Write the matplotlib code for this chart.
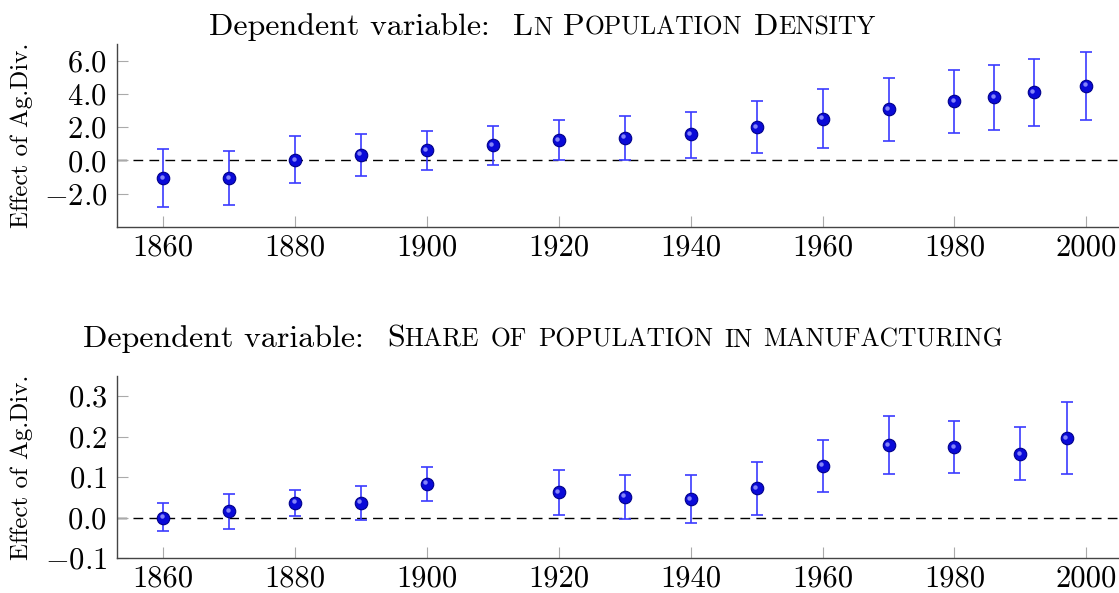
import matplotlib
matplotlib.use("Agg")
import matplotlib.pyplot as plt
import matplotlib.transforms as mtransforms
from matplotlib.offsetbox import TextArea, HPacker, AnchoredOffsetbox

plt.rcParams['font.family'] = 'cmr10'
plt.rcParams['mathtext.fontset'] = 'cm'
plt.rcParams['axes.formatter.use_mathtext'] = True

# ---- data: top panel (Ln population density) ----
years_top = [1860, 1870, 1880, 1890, 1900, 1910, 1920, 1930, 1940, 1950, 1960, 1970, 1980, 1986, 1992, 2000]
est_top   = [-1.09, -1.09, 0.02, 0.34, 0.60, 0.92, 1.21, 1.35, 1.57, 2.01, 2.51, 3.08, 3.56, 3.80, 4.11, 4.49]
hi_top    = [0.68, 0.54, 1.45, 1.57, 1.79, 2.07, 2.45, 2.66, 2.94, 3.60, 4.29, 4.97, 5.46, 5.74, 6.12, 6.52]
lo_top    = [-2.84, -2.70, -1.37, -0.93, -0.59, -0.26, 0.00, 0.00, 0.16, 0.42, 0.74, 1.18, 1.65, 1.85, 2.09, 2.45]

# ---- data: bottom panel (share in manufacturing) ----
years_bot = [1860, 1870, 1880, 1890, 1900, 1920, 1930, 1940, 1950, 1960, 1970, 1980, 1990, 1997]
est_bot   = [0.000, 0.016, 0.037, 0.036, 0.083, 0.062, 0.052, 0.045, 0.072, 0.128, 0.179, 0.174, 0.157, 0.196]
hi_bot    = [0.035, 0.059, 0.069, 0.078, 0.126, 0.118, 0.106, 0.104, 0.137, 0.192, 0.251, 0.239, 0.223, 0.285]
lo_bot    = [-0.034, -0.029, 0.004, -0.007, 0.041, 0.006, -0.003, -0.013, 0.007, 0.064, 0.108, 0.109, 0.092, 0.108]

xticks = [1860, 1880, 1900, 1920, 1940, 1960, 1980, 2000]
yticks_top = [-2.0, 0.0, 2.0, 4.0, 6.0]
yticks_bot = [-0.1, 0.0, 0.1, 0.2, 0.3]
ylabel = "Effect of Ag.Div."
title_prefix = "Dependent variable:"
title_top_words = [("L", "N"), ("P", "OPULATION"), ("D", "ENSITY")]
title_bot_words = [("S", "HARE"), ("", "OF"), ("", "POPULATION"), ("", "IN"), ("", "MANUFACTURING")]

W, H = 1119, 593
fig = plt.figure(figsize=(W / 100, H / 100), dpi=100)

ax1 = fig.add_axes([117 / W, 1 - 226.7 / H, (W - 117) / W, 182.4 / H])
ax2 = fig.add_axes([117 / W, 1 - 558.0 / H, (W - 117) / W, 182.0 / H])


def draw(ax, yrs, est, lo, hi, yticks, ylim, fmt):
    yerr = [[e - l for e, l in zip(est, lo)], [h - e for e, h in zip(est, hi)]]
    ax.axhline(0, color='black', lw=1.0, ls=(0, (7, 4.5)), zorder=1)
    ax.errorbar(yrs, est, yerr=yerr, fmt='none', ecolor='#3b3bff', elinewidth=1.2,
                capsize=4, capthick=1.2, zorder=2)
    ax.plot(yrs, est, 'o', ms=9, mfc='#0a0ad8', mec='#00008a', mew=0.8, zorder=3, ls='none')
    hl = mtransforms.offset_copy(ax.transData, fig=fig, x=-1.5, y=1.5, units='dots')
    ax.plot(yrs, est, 'o', ms=3.2, mfc='#9a9aff', mec='none', alpha=0.85, zorder=4,
            ls='none', transform=hl)
    ax.set_xlim(1853.0, 2004.95)
    ax.set_ylim(*ylim)
    ax.set_xticks(xticks)
    ax.set_xticklabels([str(t) for t in xticks])
    ax.set_yticks(yticks)
    ax.set_yticklabels([("$" + fmt + "$") % v for v in yticks])
    for s in ['top', 'right']:
        ax.spines[s].set_visible(False)
    for s in ['left', 'bottom']:
        ax.spines[s].set_color('#444444')
        ax.spines[s].set_linewidth(1.0)
    ax.tick_params(direction='in', length=8, width=0.8, color='#aaaaaa',
                   labelsize=22, labelcolor='black')
    ax.tick_params(axis='x', pad=5)
    ax.tick_params(axis='y', pad=7)
    ax.set_ylabel(ylabel, fontsize=18)
    ax.yaxis.set_label_coords(-0.084, 0.5)


draw(ax1, years_top, est_top, lo_top, hi_top, yticks_top, (-4, 7), "%.1f")
draw(ax2, years_bot, est_bot, lo_bot, hi_bot, yticks_bot, (-0.1, 0.35), "%.1f")


def smallcaps_title(words, xc, yc, big=23, small=18.4):
    tp_big = dict(fontsize=big, family='cmr10')
    tp_small = dict(fontsize=small, family='cmr10')
    word_boxes = []
    for first, rest in words:
        kids = []
        if first:
            kids.append(TextArea(first, textprops=tp_big))
        if rest:
            kids.append(TextArea(rest, textprops=tp_small))
        word_boxes.append(HPacker(children=kids, align='baseline', pad=0, sep=0))
    sc = HPacker(children=word_boxes, align='baseline', pad=0, sep=8)
    full = HPacker(children=[TextArea(title_prefix, textprops=tp_big), sc],
                   align='baseline', pad=0, sep=17)
    ab = AnchoredOffsetbox(loc='center', child=full, pad=0, borderpad=0, frameon=False,
                           bbox_to_anchor=(xc / W, 1 - yc / H),
                           bbox_transform=fig.transFigure)
    fig.add_artist(ab)


smallcaps_title(title_top_words, 542, 27)
smallcaps_title(title_bot_words, 543, 339)

fig.savefig("out.png", dpi=100)
